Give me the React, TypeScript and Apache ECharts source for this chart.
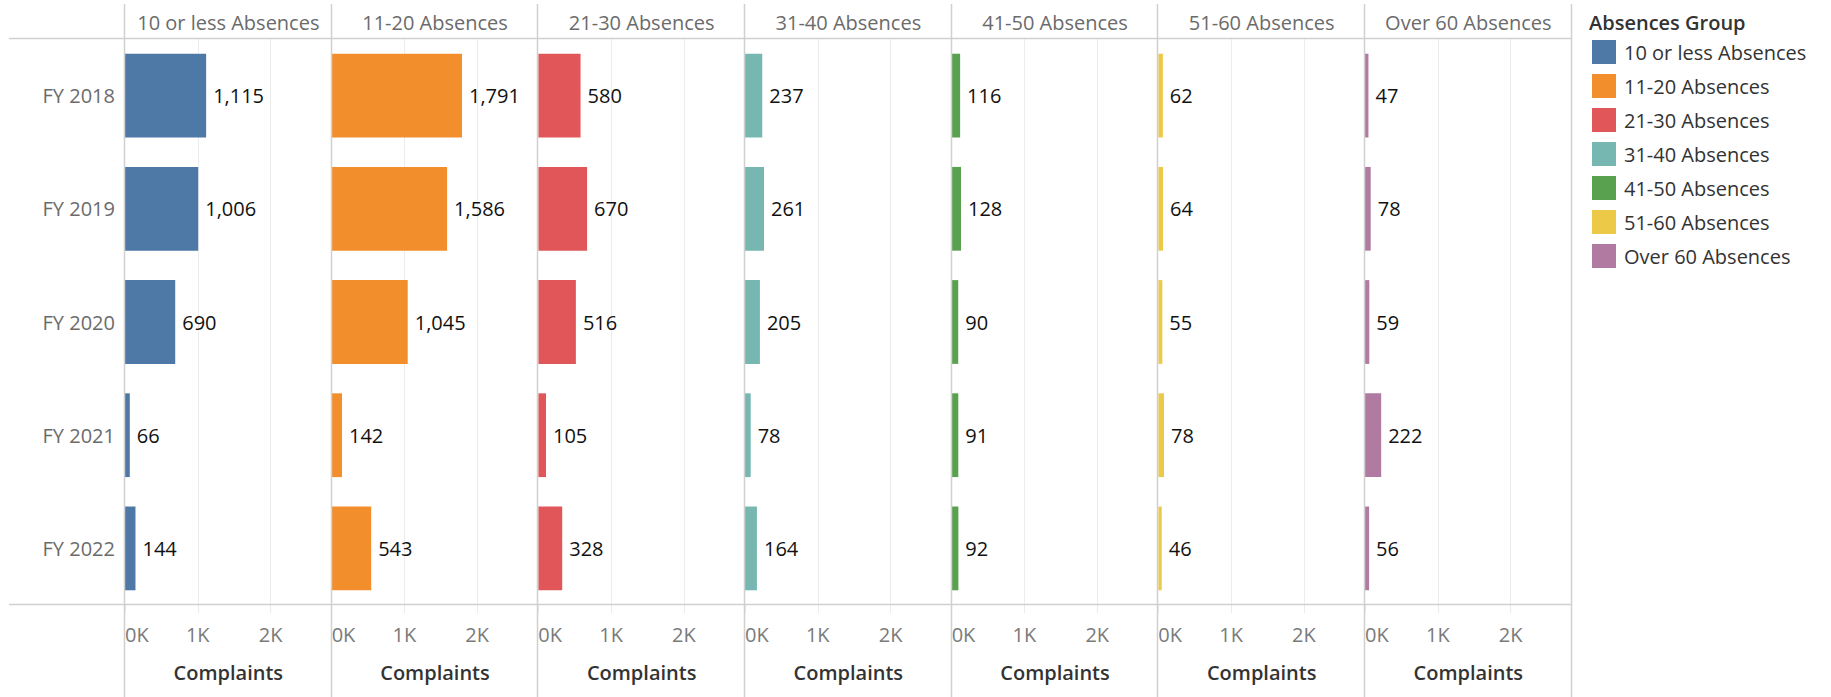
import React, { useEffect, useRef } from "react";
import * as echarts from "echarts";

const categories = ["FY 2018", "FY 2019", "FY 2020", "FY 2021", "FY 2022"];
const groups = [
  "10 or less Absences",
  "11-20 Absences",
  "21-30 Absences",
  "31-40 Absences",
  "41-50 Absences",
  "51-60 Absences",
  "Over 60 Absences",
];
const colors = ["#4e79a7", "#f28e2b", "#e15759", "#76b7b2", "#59a14f", "#edc948", "#b07aa1"];

const abs10OrLess = [1115, 1006, 690, 66, 144];
const abs11to20 = [1791, 1586, 1045, 142, 543];
const abs21to30 = [580, 670, 516, 105, 328];
const abs31to40 = [237, 261, 205, 78, 164];
const abs41to50 = [116, 128, 90, 91, 92];
const abs51to60 = [62, 64, 55, 78, 46];
const absOver60 = [47, 78, 59, 222, 56];
const seriesValues = [abs10OrLess, abs11to20, abs21to30, abs31to40, abs41to50, abs51to60, absOver60];

const axisMax = 2840;
const axisInterval = 1000;
const axisTitle = "Complaints";
const legendTitle = "Absences Group";

const FONT = "'Open Sans', 'Noto Sans', sans-serif";
const W = 1831;
const H = 697;
const PANEL_LEFT = 125;
const PANEL_W = 206.67;
const PLOT_TOP = 39;
const PLOT_BOTTOM = 605;
const LINE_COLOR = "#d0d0d0";
const GRID_COLOR = "#ececec";
const FS = 20;

export default function App() {
  const ref = useRef<HTMLDivElement>(null);

  useEffect(() => {
    if (!ref.current) return;
    const chart = echarts.init(ref.current, null, { renderer: "svg" });
    const n = groups.length;
    const grids: any[] = [];
    const xAxes: any[] = [];
    const yAxes: any[] = [];
    const series: any[] = [];
    const graphics: any[] = [];

    for (let i = 0; i < n; i++) {
      const left = PANEL_LEFT + i * PANEL_W;
      grids.push({ left, top: PLOT_TOP, width: PANEL_W, height: PLOT_BOTTOM - PLOT_TOP });
      xAxes.push({
        type: "value",
        gridIndex: i,
        min: 0,
        max: axisMax,
        interval: axisInterval,
        name: axisTitle,
        nameLocation: "middle",
        nameGap: 57,
        nameTextStyle: { color: "#333", fontSize: FS, fontWeight: 600, fontFamily: FONT },
        axisLine: { show: false },
        axisTick: { show: true, length: 8, lineStyle: { color: GRID_COLOR, width: 1 } },
        splitLine: { show: true, showMinLine: false, showMaxLine: false, lineStyle: { color: GRID_COLOR, width: 1 } },
        axisLabel: {
          color: "#7a7a7a",
          fontSize: FS,
          fontFamily: FONT,
          margin: 19,
          showMaxLabel: false,
          alignMinLabel: "left",
          formatter: (v: number) => (v % axisInterval === 0 ? `${v / 1000}K` : ""),
        },
      });
      yAxes.push({
        type: "category",
        gridIndex: i,
        data: categories,
        inverse: true,
        axisLine: { show: false },
        axisTick: { show: false },
        splitLine: { show: false },
        axisLabel: {
          show: i === 0,
          color: "#6b6b6b",
          fontSize: FS,
          fontFamily: FONT,
          margin: 10,
        },
      });
      series.push({
        type: "bar",
        name: groups[i],
        xAxisIndex: i,
        yAxisIndex: i,
        data: seriesValues[i],
        barWidth: "74%",
        itemStyle: { color: colors[i] },
        label: {
          show: true,
          position: "right",
          distance: 7,
          color: "#111",
          fontSize: FS,
          fontFamily: FONT,
          formatter: (p: any) => Number(p.value).toLocaleString("en-US"),
        },
      });
      graphics.push({
        type: "text",
        x: left + PANEL_W / 2,
        y: 22,
        style: {
          text: groups[i],
          fill: "#6b6b6b",
          fontSize: FS,
          fontFamily: FONT,
          textAlign: "center",
          textVerticalAlign: "middle",
        },
      });
    }

    for (let i = 0; i <= n; i++) {
      const x = Math.round(PANEL_LEFT + i * PANEL_W) - 0.5;
      graphics.push({
        type: "line",
        z: 10,
        shape: { x1: x, y1: 4, x2: x, y2: H },
        style: { stroke: LINE_COLOR, lineWidth: 1.5 },
      });
    }
    const rightX = Math.round(PANEL_LEFT + n * PANEL_W);
    [PLOT_TOP, PLOT_BOTTOM].forEach((y) => {
      graphics.push({
        type: "line",
        z: 10,
        shape: { x1: 9, y1: y - 0.5, x2: rightX, y2: y - 0.5 },
        style: { stroke: LINE_COLOR, lineWidth: 1.5 },
      });
    });
    graphics.push({
      type: "text",
      x: 1589,
      y: 22,
      style: {
        text: legendTitle,
        fill: "#333",
        fontSize: FS,
        fontWeight: 600,
        fontFamily: FONT,
        textAlign: "left",
        textVerticalAlign: "middle",
      },
    });

    chart.setOption({
      animation: false,
      backgroundColor: "#ffffff",
      grid: grids,
      xAxis: xAxes,
      yAxis: yAxes,
      series,
      graphic: graphics,
      legend: {
        data: groups,
        orient: "vertical",
        left: 1592,
        top: 40,
        icon: "rect",
        itemWidth: 24,
        itemHeight: 24,
        itemGap: 10,
        padding: 0,
        selectedMode: false,
        textStyle: { color: "#333", fontSize: FS, fontFamily: FONT, padding: [0, 0, 0, 3] },
      },
    });
    return () => chart.dispose();
  }, []);

  return (
    <div
      ref={ref}
      style={{ position: "absolute", left: 0, top: 0, width: W, height: H, background: "#fff" }}
    />
  );
}
